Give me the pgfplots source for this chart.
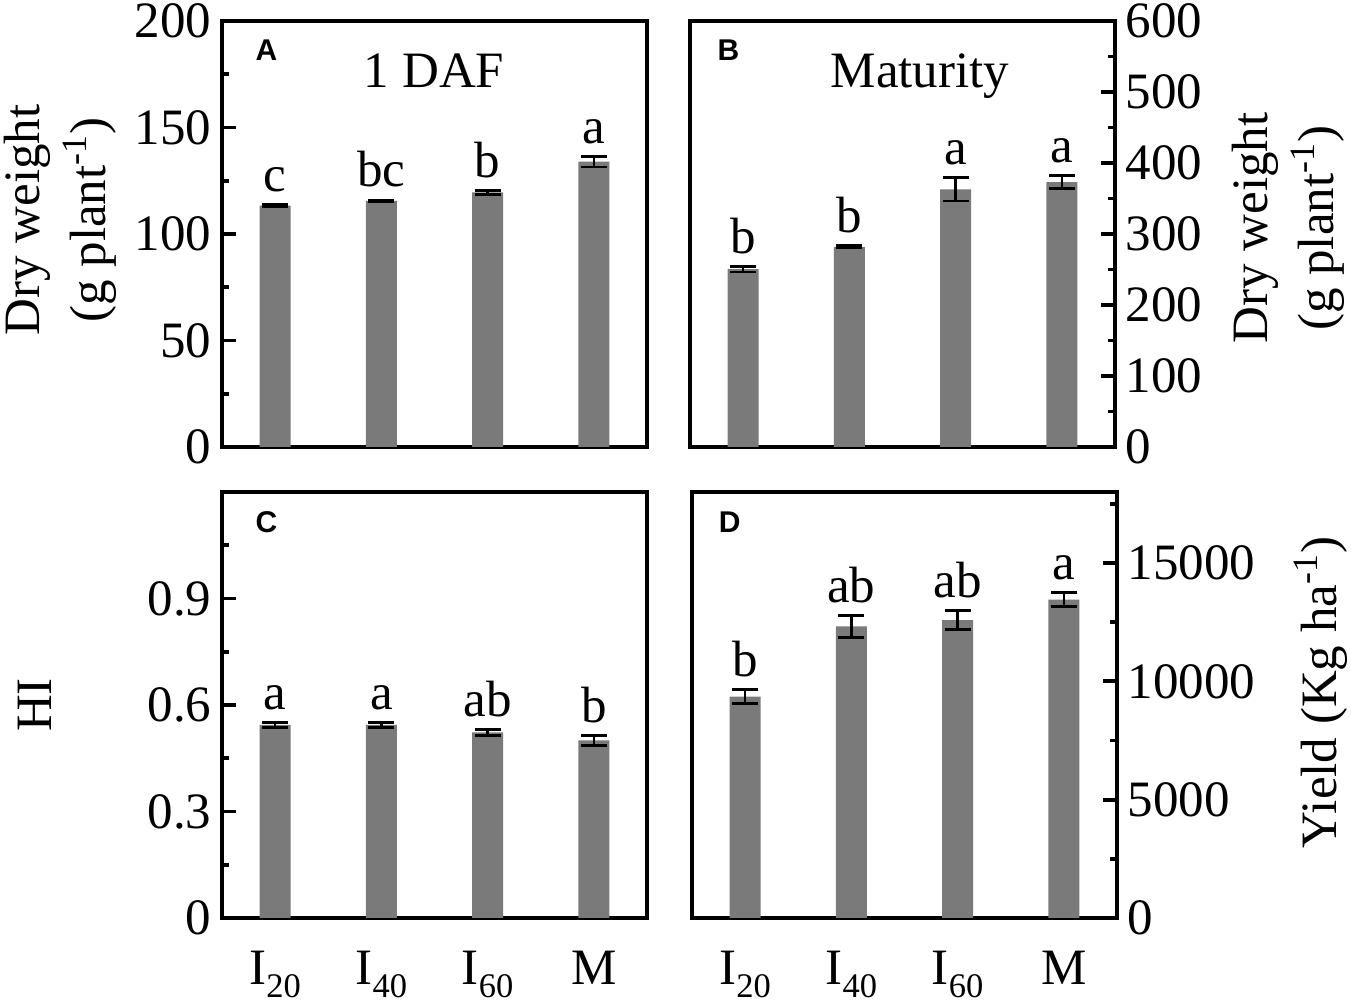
\documentclass[border=0pt]{standalone}
\usepackage{fontspec}
\setmainfont{Liberation Serif}
\newfontfamily\arialfont{Liberation Sans}
\usepackage{pgfplots}
\pgfplotsset{compat=1.18}
\definecolor{bargray}{RGB}{122,122,122}
\newcommand\lbl{\fontsize{17}{22}\selectfont}
\newcommand\pfont{\arialfont\bfseries\fontsize{10}{12}\selectfont}
\newcommand\sub[1]{\raisebox{-4.2pt}{\fontsize{11.5}{13}\selectfont #1}}

\pgfplotsset{
 panel/.style={
  scale only axis, width=141.67pt, height=142pt, anchor=south west,
  xmin=0.5, xmax=4.5, ymin=0,
  axis line style={line width=1.5pt},
  tick align=inside,
  major tick length=4.8pt, minor tick length=2.2pt,
  xtick={1,2,3,4}, xtick style={draw=none},
  ytick style={black, line width=1.3pt},
  xtick pos=bottom,
  tick label style={font=\lbl},
  /pgf/number format/assume math mode=true,
  /pgf/number format/1000 sep={},
  scaled y ticks=false,
  clip=false,
 },
 bars/.style={ybar, bar width=10.3pt, fill=bargray, draw=none,
   error bars/.cd, y dir=both, y explicit,
   error bar style={black, line width=0.9pt},
   error mark options={black, line width=0.9pt, mark size=4.3pt, rotate=90}},
 letters/.style={draw=none, mark=none, nodes near coords, point meta=explicit symbolic,
   every node near coord/.append style={font=\lbl, text=black, inner sep=0pt, yshift=4pt, anchor=south}},
}

\begin{document}
\begin{tikzpicture}
\useasboundingbox (0,0) rectangle (450.33pt,334.33pt);

% Panel A
\begin{axis}[panel, at={(74pt,185.33pt)}, ymax=200,
  ytick={0,50,...,200}, minor y tick num=1, ytick pos=left,
  xticklabels={,,,}]
\addplot[bars] coordinates {(1,113.3) +- (0,0.4) (2,115.6) +- (0,0.4) (3,119.5) +- (0,1.0) (4,134) +- (0,2.5)};
\addplot[letters] coordinates {(1,113.7)[c] (2,116.0)[bc] (3,120.5)[b] (4,136.5)[a]};
\node[anchor=west, font=\pfont] at (rel axis cs:0.054,0.932) {A};
\node[anchor=base, font=\lbl] at (rel axis cs:0.499,0.845) {1 DAF};
\node[rotate=90, align=center, font=\lbl] at (rel axis cs:-0.381,0.533) {Dry weight\\(g plant\textsuperscript{-1})};
\end{axis}

% Panel B
\begin{axis}[panel, at={(230pt,185.33pt)}, ymax=600,
  ytick={0,100,...,600}, minor y tick num=1, ytick pos=right, yticklabel pos=right,
  xticklabels={,,,}]
\addplot[bars] coordinates {(1,250.5) +- (0,4) (2,282) +- (0,1.5) (3,363) +- (0,16.5) (4,373) +- (0,9)};
\addplot[letters] coordinates {(1,254.5)[b] (2,283.5)[b] (3,379.5)[a] (4,382)[a]};
\node[anchor=west, font=\pfont] at (rel axis cs:0.04,0.932) {B};
\node[anchor=base, font=\lbl] at (rel axis cs:0.541,0.845) {Maturity};
\node[rotate=90, align=center, font=\lbl] at (rel axis cs:1.407,0.514) {Dry weight\\(g plant\textsuperscript{-1})};
\end{axis}

% Panel C
\begin{axis}[panel, at={(74pt,28.33pt)}, ymax=1.2,
  ytick={0,0.3,0.6,0.9}, minor ytick={0.15,0.45,0.75,1.05}, ytick pos=left,
  xticklabels={I\sub{20},I\sub{40},I\sub{60},M},
  xticklabel style={yshift=-7.5pt}]
\addplot[bars] coordinates {(1,0.544) +- (0,0.007) (2,0.544) +- (0,0.007) (3,0.523) +- (0,0.008) (4,0.500) +- (0,0.015)};
\addplot[letters] coordinates {(1,0.551)[a] (2,0.551)[a] (3,0.531)[ab] (4,0.515)[b]};
\node[anchor=west, font=\pfont] at (rel axis cs:0.054,0.93) {C};
\node[rotate=90, align=center, font=\lbl] at (rel axis cs:-0.44,0.5) {HI};
\end{axis}

% Panel D
\begin{axis}[panel, at={(230.67pt,28.33pt)}, ymax=18000,
  ytick={0,5000,10000,15000}, minor ytick={2500,7500,12500,17500}, ytick pos=right, yticklabel pos=right,
  xticklabels={I\sub{20},I\sub{40},I\sub{60},M},
  xticklabel style={yshift=-7.5pt}]
\addplot[bars] coordinates {(1,9350) +- (0,300) (2,12320) +- (0,460) (3,12590) +- (0,400) (4,13450) +- (0,290)};
\addplot[letters] coordinates {(1,9650)[b] (2,12780)[ab] (3,12990)[ab] (4,13740)[a]};
\node[anchor=west, font=\pfont] at (rel axis cs:0.038,0.93) {D};
\node[rotate=90, align=center, font=\lbl] at (rel axis cs:1.479,0.53) {Yield (Kg ha\textsuperscript{-1})};
\end{axis}
\end{tikzpicture}
\end{document}
